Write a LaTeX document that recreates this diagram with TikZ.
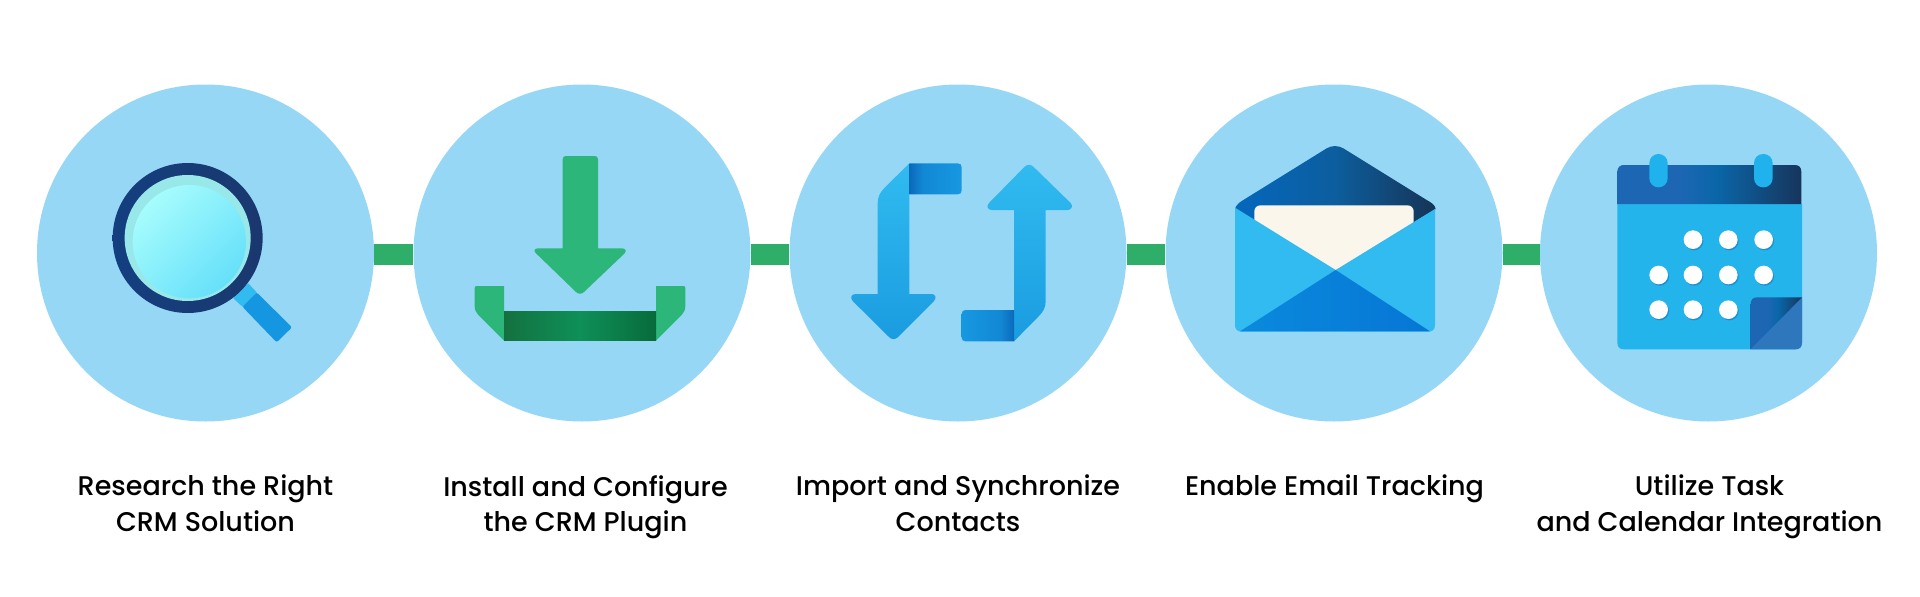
\documentclass[tikz,border=0pt]{standalone}
\usepackage{fontspec}
\setmainfont{Poppins Medium}
\definecolor{cbg}{HTML}{97D7F6}
\definecolor{cgreen}{HTML}{2FAE6A}
\definecolor{igreen}{HTML}{2DB67A}
\definecolor{skya}{HTML}{31BBF0}
\definecolor{ringa}{HTML}{143F80}
\definecolor{ringb}{HTML}{1A386E}
\definecolor{palering}{HTML}{98E8EA}
\definecolor{lensa}{HTML}{A6FCFC}
\definecolor{lensb}{HTML}{66E0FA}
\definecolor{handle}{HTML}{1497E0}
\definecolor{bara}{HTML}{14713F}
\definecolor{barb}{HTML}{0E9058}
\definecolor{barc}{HTML}{086A3A}
\definecolor{synct}{HTML}{31BBF0}
\definecolor{syncb}{HTML}{1A9CE0}
\definecolor{foldd}{HTML}{0A6ABA}
\definecolor{foldm}{HTML}{1288D4}
\definecolor{foldl}{HTML}{1798E0}
\definecolor{flapa}{HTML}{0567BD}
\definecolor{flapm}{HTML}{0C5E9E}
\definecolor{flapb}{HTML}{163456}
\definecolor{letter}{HTML}{FBF6EC}
\definecolor{enva}{HTML}{0A8ADD}
\definecolor{envb}{HTML}{0676D5}
\definecolor{calbody}{HTML}{23B4EB}
\definecolor{cala}{HTML}{1C66B4}
\definecolor{calb}{HTML}{0A66A8}
\definecolor{calc}{HTML}{17355C}
\definecolor{calring}{HTML}{20B2EC}
\definecolor{dotsh}{HTML}{1C8ED0}
\definecolor{calfold}{HTML}{2F77BC}
\pgfdeclarehorizontalshading{foldleft}{100bp}{color(0bp)=(foldd); color(25bp)=(foldd); color(38bp)=(foldm); color(75bp)=(foldl); color(100bp)=(foldl)}
\pgfdeclarehorizontalshading{foldright}{100bp}{color(0bp)=(foldl); color(25bp)=(foldl); color(62bp)=(foldm); color(75bp)=(foldd); color(100bp)=(foldd)}
\pgfdeclarehorizontalshading{calband}{100bp}{color(0bp)=(cala); color(25bp)=(cala); color(42bp)=(cala); color(52bp)=(calb); color(75bp)=(calc); color(100bp)=(calc)}
\begin{document}
\begin{tikzpicture}[x=1pt,y=-1pt,
  circ/.style={circle,fill=cbg,inner sep=0pt,minimum size=337pt},
  conn/.style={draw=cgreen,line width=21pt},
  lab/.style={align=center,anchor=north,inner sep=0pt,font=\fontsize{27}{35.5}\selectfont,text=black},
  icon/.style={x=.33333pt,y=-.33333pt}]
\useasboundingbox (0,0) rectangle (1920,597);
\fill[white] (0,0) rectangle (1920,597);
\node[circ] (c1) at (205.5,253) {};
\node[circ] (c2) at (582,253) {};
\node[circ] (c3) at (958,253) {};
\node[circ] (c4) at (1334,253) {};
\node[circ] (c5) at (1708.5,253) {};
\draw[conn] ([yshift=-1.6pt]c1.east) -- ([yshift=-1.6pt]c2.west);
\draw[conn] ([yshift=-1.6pt]c2.east) -- ([yshift=-1.6pt]c3.west);
\draw[conn] ([yshift=-1.6pt]c3.east) -- ([yshift=-1.6pt]c4.west);
\draw[conn] ([yshift=-1.6pt]c4.east) -- ([yshift=-1.6pt]c5.west);
\node[lab] (t1) at (205.5,475) {Research the Right\\CRM Solution};
\node[lab] (t2) at (585.5,475) {Install and Configure\\the CRM Plugin};
\node[lab] (t3) at (958,475) {Import and Synchronize\\Contacts};
\node[lab] (t4) at (1334.5,475) {Enable Email Tracking};
\node[lab] (t5) at (1709.5,475) {Utilize Task\\and Calendar Integration};
% magnifier
\begin{scope}[shift={(60pt,-120pt)},icon]
\fill[skya] (520,535)--(565,490)--(590,517)--(547,560)--cycle;
\fill[handle,rounded corners=2pt] (547,560)--(590,517)--(696,622)--(650,667)--cycle;
\shade[left color=ringa,right color=ringb] (383,354) circle[radius=225];
\fill[palering] (383,354) circle[radius=189];
\shade[top color=lensa,bottom color=lensb,shading angle=45] (388,365) circle[radius=170];
\end{scope}
% download
\begin{scope}[shift={(440pt,-130pt)},icon]
\fill[igreen] (368,88) .. controls (368,81) and (372,78) .. (378,78) -- (464,78) .. controls (470,78) and (474,81) .. (474,88) -- (474,355) -- (545,355) .. controls (556,355) and (561,362) .. (554,370) -- (432,486) .. controls (425,493) and (415,493) .. (408,486) -- (288,370) .. controls (279,362) and (284,355) .. (295,355) -- (368,355) -- cycle;
\fill[igreen] (110,468) -- (192,468) -- (192,632) -- (115,555) .. controls (108,548) and (104,540) .. (104,528) -- (104,474) .. controls (104,470) and (106,468) .. (110,468) -- cycle;
\fill[igreen] (730,468) -- (648,468) -- (648,632) -- (725,555) .. controls (732,548) and (736,540) .. (736,528) -- (736,474) .. controls (736,470) and (734,468) .. (730,468) -- cycle;
\shade[left color=bara,right color=barc,middle color=barb] (192,545) rectangle (648,632);
\end{scope}
% sync
\begin{scope}[shift={(820pt,-140pt)},icon]
\shade[top color=synct,bottom color=syncb] (268,70) -- (195,142) .. controls (180,157) and (173,170) .. (173,190) -- (173,462) -- (107,462) .. controls (93,462) and (90,474) .. (98,483) -- (208,592) .. controls (215,599) and (226,599) .. (233,592) -- (342,483) .. controls (350,474) and (347,462) .. (335,462) -- (268,462) -- cycle;
\shade[shading=foldleft] (268,70) -- (413,70) .. controls (421,70) and (425,74) .. (425,82) -- (425,151) .. controls (425,159) and (421,163) .. (413,163) -- (268,163) -- cycle;
\shade[top color=synct,bottom color=syncb] (582,604) -- (655,530) .. controls (670,515) and (677,503) .. (677,483) -- (677,210) -- (743,210) .. controls (755,210) and (760,198) .. (752,189) -- (640,80) .. controls (633,73) and (621,73) .. (614,80) -- (507,189) .. controls (499,197) and (502,210) .. (515,210) -- (582,210) -- cycle;
\shade[shading=foldright] (582,510) -- (437,510) .. controls (429,510) and (425,514) .. (425,522) -- (425,592) .. controls (425,600) and (429,604) .. (437,604) -- (582,604) -- cycle;
\end{scope}
% envelope
\begin{scope}[shift={(1210pt,-130pt)},icon]
\shade[left color=flapa,right color=flapb,middle color=flapm] (75,237) .. controls (78,225) and (88,217) .. (100,210) -- (350,55) .. controls (365,46) and (385,46) .. (400,55) -- (650,210) .. controls (665,218) and (675,225) .. (677,237) -- (377,420) -- cycle;
\fill[letter,rounded corners=6pt] (133,290)--(133,226)--(611,226)--(611,290)--(377,430)--cycle;
\fill[skya] (75,233) -- (377,420) -- (675,237) -- (675,585) .. controls (675,598) and (668,605) .. (655,605) -- (95,605) .. controls (82,605) and (75,598) .. (75,585) -- cycle;
\shade[left color=enva,right color=envb] (90,604)--(377,420)--(660,604)--cycle;
\end{scope}
% calendar
\begin{scope}[shift={(1600pt,-140pt)},icon]
\fill[calbody] (52,192) -- (606,192) -- (606,608) .. controls (606,621) and (599,628) .. (586,628) -- (72,628) .. controls (59,628) and (52,621) .. (52,608) -- cycle;
\shade[shading=calband] (52,192) -- (52,95) .. controls (52,82) and (60,75) .. (72,75) -- (584,75) .. controls (597,75) and (604,82) .. (604,95) -- (604,192) -- cycle;
\fill[calring,rounded corners=9pt] (148,42) rectangle (203,142);
\fill[calring,rounded corners=9pt] (462,42) rectangle (518,142);
\foreach \px/\py in {279/299,385/299,491/299,176/405,279/405,385/405,491/405,176/509,279/509,385/509}{
  \fill[dotsh] (\px+3,\py+4) circle[radius=28];
  \fill[white] (\px,\py) circle[radius=28];
}
\fill[calfold] (606,472) -- (606,608) .. controls (606,621) and (599,628) .. (586,628) -- (452,628) -- cycle;
\shade[shading=calband] (452,628) -- (452,492) .. controls (452,479) and (459,472) .. (472,472) -- (606,472) -- cycle;
\end{scope}
\end{tikzpicture}
\end{document}
